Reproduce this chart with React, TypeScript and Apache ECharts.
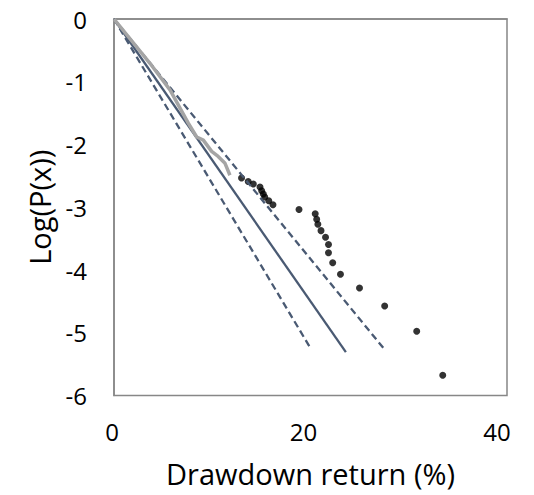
import React, { useEffect, useRef } from "react";
import * as echarts from "echarts";

const xTicks = [0, 20, 40];
const yTicks = [-6, -5, -4, -3, -2, -1, 0];

// empirical distribution (gray line)
const empX = [0, 3.66, 5.7, 7.56, 8.42, 9.09, 9.94, 10.6, 11.3, 11.8];
const empY = [0, -0.706, -1.13, -1.66, -1.88, -1.93, -2.11, -2.19, -2.3, -2.49];

// tail points (black dots)
const dotX = [12.98, 13.66, 14.18, 14.86, 15.03, 15.2, 15.34, 15.75, 16.18, 18.83, 20.48, 20.63, 20.75, 21.07, 21.53, 21.83, 21.83, 22.26, 23.05, 24.99, 27.55, 30.81, 33.46];
const dotY = [-2.534, -2.59, -2.63, -2.677, -2.736, -2.789, -2.837, -2.896, -2.959, -3.036, -3.104, -3.19, -3.27, -3.373, -3.479, -3.594, -3.726, -3.884, -4.067, -4.288, -4.574, -4.977, -5.678];

// fitted line and bounds
const fitX = [0, 23.6];
const fitY = [0, -5.31];
const lowerX = [0, 20.05];
const lowerY = [0, -5.26];
const upperX = [0, 27.4];
const upperY = [0, -5.24];

const pairs = (xs: number[], ys: number[]) => xs.map((x, i) => [x, ys[i]]);

const FONT = "Open Sans";
const LINE = "#4A5A73";

export default function App() {
  const ref = useRef<HTMLDivElement>(null);
  useEffect(() => {
    if (!ref.current) return;
    const chart = echarts.init(ref.current, undefined, { renderer: "svg" });
    chart.setOption({
      animation: false,
      backgroundColor: "#ffffff",
      grid: {
        left: 114,
        right: 27,
        top: 19,
        bottom: 99.5,
        show: true,
        borderColor: "#878787",
        borderWidth: 1.5,
      },
      xAxis: {
        type: "value",
        min: xTicks[0],
        max: xTicks[xTicks.length - 1],
        interval: 20,
        name: "Drawdown return (%)",
        nameLocation: "middle",
        nameGap: 63,
        nameTextStyle: { fontFamily: FONT, fontSize: 29, color: "#000" },
        axisLine: { show: true, lineStyle: { color: "#878787", width: 1.5 } },
        axisTick: { show: false },
        splitLine: { show: false },
        axisLabel: {
          fontFamily: FONT,
          fontSize: 24,
          color: "#000",
          margin: 24,
          formatter: (v: number) => `{t${v}|${v}}`,
          rich: {
            t0: { fontFamily: FONT, fontSize: 24, color: "#000", padding: [0, 4, 0, 0] },
            t20: { fontFamily: FONT, fontSize: 24, color: "#000", padding: [0, 14, 0, 0] },
            t40: { fontFamily: FONT, fontSize: 24, color: "#000", padding: [0, 20, 0, 0] },
          },
        },
      },
      yAxis: {
        type: "value",
        min: yTicks[0],
        max: yTicks[yTicks.length - 1],
        interval: 1,
        name: "Log(P(x))",
        nameLocation: "middle",
        nameGap: 60,
        nameTextStyle: { fontFamily: FONT, fontSize: 29, color: "#000" },
        axisLine: { show: true, onZero: false, lineStyle: { color: "#878787", width: 1.5 } },
        axisTick: { show: false },
        splitLine: { show: false },
        axisLabel: {
          fontFamily: FONT,
          fontSize: 24,
          color: "#000",
          margin: 27,
          padding: [5, 0, 0, 0],
        },
      },
      series: [
        {
          type: "line",
          data: pairs(lowerX, lowerY),
          symbol: "none",
          lineStyle: { color: LINE, width: 2.3, type: [7, 4] },
        },
        {
          type: "line",
          data: pairs(upperX, upperY),
          symbol: "none",
          lineStyle: { color: LINE, width: 2.3, type: [7, 4] },
        },
        {
          type: "line",
          data: pairs(fitX, fitY),
          symbol: "none",
          lineStyle: { color: LINE, width: 2.3 },
        },
        {
          type: "line",
          data: pairs(empX, empY),
          symbol: "none",
          lineStyle: { color: "#a5a5a5", width: 3.5 },
        },
        {
          type: "scatter",
          data: pairs(dotX, dotY),
          symbol: "circle",
          symbolSize: 7,
          itemStyle: { color: "#000" },
        },
      ],
    });
    return () => chart.dispose();
  }, []);
  return <div ref={ref} style={{ width: 534, height: 495, marginLeft: -8, marginTop: -8 }} />;
}
